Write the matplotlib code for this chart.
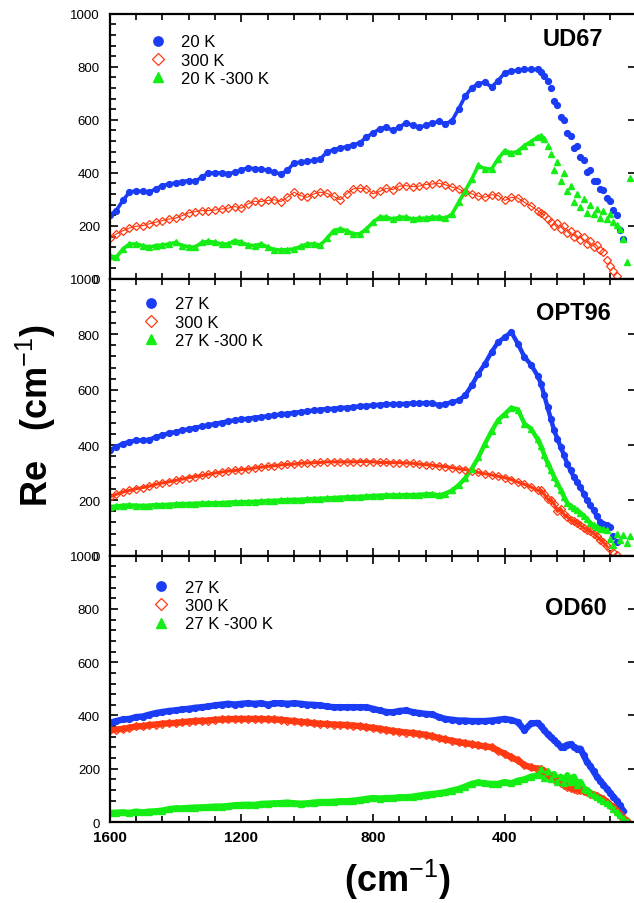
#!/usr/bin/python3

import numpy as np
import matplotlib
matplotlib.use('Agg')
import matplotlib.pyplot as plt
from matplotlib.ticker import MultipleLocator, FixedLocator

plt.rcParams['font.family'] = ['Liberation Sans', 'DejaVu Sans']
plt.rcParams['mathtext.fontset'] = 'custom'
plt.rcParams['mathtext.rm'] = 'Liberation Sans'
plt.rcParams['mathtext.bf'] = 'Liberation Sans:bold'
plt.rcParams['mathtext.default'] = 'bf'

nan = np.nan

# frequency grid (cm-1): 20 cm-1 steps above 300, 10 cm-1 steps below
wn = list(range(1600, 299, -20)) + list(range(290, 19, -10))

# ---- UD67 ----
ud67_cold = [
    241, 258, 296, 327, 333, 330, 327, 340, 352, 358,
    362, 367, 371, 369, 384, 400, 400, 400, 397, 402,
    411, 419, 415, 415, 409, 402, 396, 409, 438, 440,
    443, 447, 453, 478, 488, 493, 499, 506, 513, 535,
    550, 566, 572, 560, 572, 589, 579, 572, 579, 587,
    594, 585, 597, 641, 689, 721, 736, 742, 723, 748,
    777, 784, 786, 790, 790, 790,
    782, 767, 745, 720, 670, 655, 610, 600, 550, 540,
    495, 500, 460, 450, 405, 410, 370, 370, 340, 335,
    305, 295, 260, 240, 185, 150, nan, nan]
ud67_warm = [
    153, 170, 182, 192, 199, 201, 208, 214, 220, 226,
    229, 239, 249, 254, 258, 258, 260, 264, 267, 273,
    267, 283, 293, 292, 296, 299, 292, 308, 327, 314,
    308, 321, 327, 323, 311, 299, 321, 340, 342, 340,
    321, 330, 342, 337, 350, 352, 348, 350, 356, 358,
    361, 355, 346, 340, 327, 321, 312, 308, 318, 314,
    296, 308, 305, 289, 275, 258,
    250, 240, 228, 215, 200, 210, 190, 198, 172, 182,
    158, 168, 148, 158, 133, 143, 122, 128, 108, 100,
    70, 50, 30, 10, nan, nan, nan, nan]
ud67_diff = [
    88, 82, 113, 132, 132, 126, 120, 126, 128, 132,
    138, 126, 122, 120, 138, 142, 138, 132, 132, 145,
    138, 128, 126, 132, 120, 111, 109, 111, 113, 123,
    132, 132, 128, 153, 182, 189, 182, 170, 170, 189,
    214, 233, 233, 226, 233, 233, 226, 229, 229, 233,
    233, 229, 245, 289, 333, 377, 428, 415, 415, 453,
    484, 475, 481, 503, 518, 535,
    538, 528, 500, 470, 410, 440, 370, 400, 330, 350,
    290, 320, 270, 300, 250, 280, 245, 265, 230, 255,
    225, 245, 215, 205, 190, 150, 65, 380]

# ---- OPT96 ----
opt96_cold = [
    381, 393, 405, 411, 417, 417, 419, 429, 435, 443,
    447, 453, 457, 463, 467, 471, 477, 481, 486, 489,
    493, 495, 499, 501, 504, 507, 511, 513, 517, 519,
    522, 525, 528, 530, 531, 534, 535, 537, 540, 542,
    543, 546, 547, 548, 548, 549, 551, 551, 552, 552,
    543, 549, 555, 561, 580, 616, 658, 694, 736, 772,
    790, 808, 766, 718, 690, 650,
    622, 580, 537, 495, 453, 423, 393, 363, 333, 308,
    284, 266, 248, 224, 200, 182, 164, 143, 122, 116,
    110, 105, 70, 50, nan, nan, nan, nan]
opt96_warm = [
    212, 222, 230, 236, 242, 246, 251, 258, 263, 267,
    272, 277, 282, 286, 290, 294, 299, 302, 306, 308,
    311, 313, 317, 320, 323, 325, 328, 330, 331, 334,
    335, 336, 337, 339, 339, 339, 339, 339, 340, 340,
    339, 337, 337, 336, 336, 335, 334, 331, 329, 327,
    324, 322, 318, 314, 311, 306, 301, 296, 292, 287,
    282, 275, 266, 258, 248, 236,
    236, 222, 206, 200, 188, 160, 170, 149, 140, 130,
    124, 118, 110, 100, 94, 88, 80, 70, 58, 48,
    35, 25, 12, 3, nan, nan, nan, nan]
opt96_diff = [
    176, 178, 181, 182, 181, 180, 181, 183, 183, 184,
    186, 186, 187, 188, 189, 189, 190, 190, 192, 193,
    193, 194, 195, 196, 198, 198, 200, 201, 202, 202,
    204, 205, 206, 207, 208, 210, 211, 212, 213, 214,
    216, 217, 218, 218, 218, 219, 219, 220, 222, 222,
    218, 224, 236, 255, 280, 315, 355, 405, 450, 490,
    512, 535, 528, 477, 459, 420,
    395, 365, 335, 310, 285, 262, 238, 212, 190, 180,
    172, 165, 155, 145, 132, 118, 110, 104, 98, 95,
    92, 60, 40, 80, 55, 75, 45, 70]

# ---- OD60 ----
od60_cold = [
    372, 379, 385, 387, 394, 396, 403, 409, 413, 417,
    419, 423, 425, 429, 431, 434, 438, 441, 444, 441,
    444, 446, 444, 446, 441, 446, 446, 444, 446, 444,
    441, 440, 438, 434, 431, 431, 431, 431, 431, 431,
    425, 419, 413, 412, 417, 419, 413, 409, 406, 404,
    394, 387, 384, 381, 381, 379, 379, 379, 381, 384,
    387, 383, 375, 345, 370, 372,
    360, 345, 330, 318, 308, 295, 283, 282, 290, 292,
    282, 275, 275, 250, 225, 210, 190, 170, 155, 140,
    125, 110, 95, 80, 62, 42, nan, nan]
od60_warm = [
    344, 347, 350, 354, 359, 360, 364, 366, 369, 371,
    372, 375, 377, 379, 380, 381, 384, 385, 386, 387,
    387, 387, 387, 387, 386, 385, 384, 381, 379, 376,
    374, 371, 369, 368, 366, 365, 364, 362, 360, 356,
    354, 350, 346, 342, 339, 336, 334, 331, 327, 322,
    315, 310, 305, 300, 296, 292, 288, 284, 281, 268,
    256, 243, 231, 214, 205, 200,
    198, 190, 180, 170, 162, 155, 147, 140, 133, 128,
    125, 122, 119, 116, 112, 107, 102, 97, 91, 85,
    75, 65, 55, 42, 30, 15, 5, nan]
od60_diff = [
    34, 35, 36, 34, 39, 36, 39, 40, 43, 48,
    51, 51, 53, 54, 55, 56, 58, 58, 60, 63,
    64, 65, 64, 68, 69, 70, 71, 73, 70, 69,
    70, 73, 75, 75, 76, 78, 78, 80, 83, 87,
    90, 88, 90, 90, 93, 93, 95, 99, 103, 105,
    108, 112, 118, 124, 133, 143, 149, 145, 143, 143,
    150, 145, 155, 160, 170, 175,
    200, 165, 190, 160, 180, 150, 170, 145, 175, 150,
    170, 140, 150, 125, 120, 110, 100, 95, 85, 78,
    70, 62, 50, 38, 25, 12, 3, nan]

samples = ['UD67', 'OPT96', 'OD60']
cold_labels = ['20 K', '27 K', '27 K']
x_ticks = [1600, 1200, 800, 400]

BLUE = '#1a3cf5'
RED = '#ff3a12'
GREEN = '#14ee14'


def style_axis(ax, show_xlabels):
    ax.set_xlim(1600, 0)
    ax.set_ylim(0, 1000)
    ax.xaxis.set_major_locator(FixedLocator(x_ticks))
    ax.xaxis.set_minor_locator(MultipleLocator(80))
    ax.yaxis.set_major_locator(MultipleLocator(200))
    ax.yaxis.set_minor_locator(MultipleLocator(40))
    ax.tick_params(which='both', direction='in', top=True, right=True,
                   width=1.2, color='black')
    ax.tick_params(which='major', length=6)
    ax.tick_params(which='minor', length=4, right=False)
    ax.tick_params(axis='y', labelsize=9.5, pad=7)
    ax.tick_params(axis='x', labelsize=11, pad=6, labelbottom=show_xlabels)
    for lab in ax.get_xticklabels():
        lab.set_fontweight('bold')
    for pos in ax.spines:
        ax.spines[pos].set_linewidth(1.6)


def draw_panel(ax, cold, warm, diff, cold_label, name, line_w, red_w,
               line_end, legend_xy, name_xy):
    # a band of the series colour under the markers keeps the dense look;
    # the noisy far-infrared tail is left as bare markers
    n = wn.index(line_end) + 1
    ax.plot(wn[:n], cold[:n], '-', color=BLUE, lw=line_w)
    ax.plot(wn[:n], warm[:n], '-', color=RED, lw=red_w)
    ax.plot(wn[:n], diff[:n], '-', color=GREEN, lw=line_w)
    ax.plot(wn, cold, 'o', ls='none', ms=4.2, color=BLUE, mec=BLUE,
            label=cold_label)
    ax.plot(wn, warm, 'D', ls='none', ms=3.8, mfc='none', mec=RED,
            mew=0.9, label='300 K')
    ax.plot(wn, diff, '^', ls='none', ms=4.6, color=GREEN, mec=GREEN,
            label='{} -300 K'.format(cold_label))

    leg = ax.legend(loc='upper left', bbox_to_anchor=legend_xy,
                    frameon=False, fontsize=12, borderpad=0,
                    borderaxespad=0, handlelength=1.0, handletextpad=0.9,
                    labelspacing=0.2, markerscale=1.6)
    leg.legend_handles[1].set_markerfacecolor('white')
    ax.text(name_xy[0], name_xy[1], name, transform=ax.transAxes,
            ha='right', va='center', fontsize=17, fontweight='bold')


def main():
    fig = plt.figure(figsize=(6.34, 9.04), dpi=100)
    W, H = 634.0, 904.0
    left = 109.7 / W
    width = 526.7 / W

    # panel extents in pixels (top, bottom)
    extents = [(14.7, 280.0), (280.0, 556.7), (556.7, 823.0)]
    axes = []
    for top, bottom in extents:
        axes.append(fig.add_axes([left, 1 - bottom / H, width,
                                  (bottom - top) / H]))

    data = [(ud67_cold, ud67_warm, ud67_diff),
            (opt96_cold, opt96_warm, opt96_diff),
            (od60_cold, od60_warm, od60_diff)]
    line_widths = [2.6, 3.2, 4.6]
    red_widths = [0.8, 2.2, 4.6]
    line_ends = [280, 90, 20]
    legend_pos = [(0.076, 0.922), (0.063, 0.937), (0.082, 0.91)]
    name_pos = [(0.937, 0.905), (0.952, 0.878), (0.944, 0.807)]

    for i, ax in enumerate(axes):
        cold, warm, diff = data[i]
        draw_panel(ax, cold, warm, diff, cold_labels[i], samples[i],
                   line_widths[i], red_widths[i], line_ends[i],
                   legend_pos[i], name_pos[i])
        style_axis(ax, show_xlabels=(i == 2))

    fig.text(36 / W, 1 - 416 / H, r'Re   (cm$^{\rm{-}1}$)', rotation=90,
             ha='center', va='center', fontsize=26, fontweight='bold')
    fig.text(397 / W, 1 - 880 / H, r'(cm$^{\rm{-}1}$)',
             ha='center', va='center', fontsize=26, fontweight='bold')

    fig.savefig('out.png', dpi=100)


if __name__ == '__main__':
    main()
